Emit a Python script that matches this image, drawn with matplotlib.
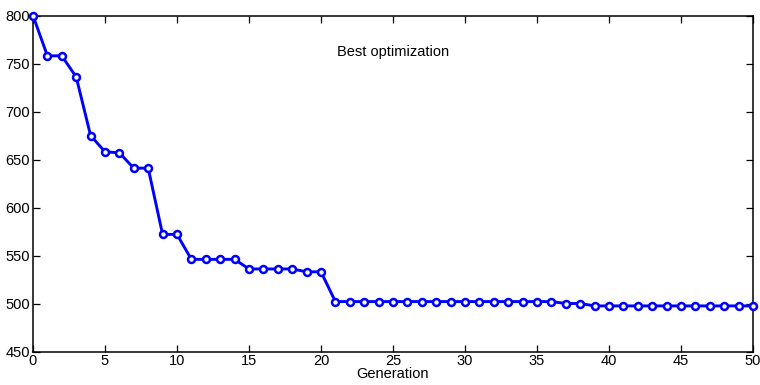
import matplotlib
matplotlib.use("Agg")
import matplotlib.pyplot as plt
import numpy as np

# 每一代的最优值
generation = np.arange(0, 51)
best_value = [800, 758, 758, 736, 675, 658, 657, 641, 641, 572,
              572, 546, 546, 546, 546, 536, 536, 536, 536, 533,
              533, 502, 502, 502, 502, 502, 502, 502, 502, 502,
              502, 502, 502, 502, 502, 502, 502, 500, 500, 497.5,
              497.5, 497.5, 497.5, 497.5, 497.5, 497.5, 497.5, 497.5, 497.5, 497.5,
              497.5]

x_ticks = [0, 5, 10, 15, 20, 25, 30, 35, 40, 45, 50]
y_ticks = [450, 500, 550, 600, 650, 700, 750, 800]

plt.rcParams['font.family'] = ['Liberation Sans', 'DejaVu Sans']

fig = plt.figure(figsize=(7.6, 3.85), dpi=100)
ax = fig.add_axes([0.0434, 0.087, 0.9474, 0.8727])

ax.plot(generation, best_value, color='#0000ff', linewidth=2.1,
        marker='o', markersize=5.0, markerfacecolor='white',
        markeredgecolor='#0000ff', markeredgewidth=1.8, clip_on=False, zorder=3)

ax.set_xlim(0, 50)
ax.set_ylim(450, 800)
ax.set_xticks(x_ticks)
ax.set_yticks(y_ticks)
ax.tick_params(direction='in', top=True, right=True, length=5, width=0.9,
               labelsize=10.5, pad=2)
for s in ax.spines.values():
    s.set_linewidth(1.1)

ax.set_xlabel("Generation", fontsize=10.5, labelpad=-1)
ax.text(25, 762, "Best optimization", fontsize=10.5, ha='center', va='center')

plt.savefig("out.png", dpi=100)
